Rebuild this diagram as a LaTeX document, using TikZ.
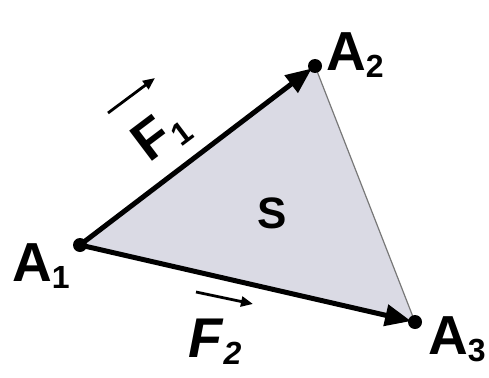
\documentclass[tikz,border=0pt]{standalone}
\usepackage{fontspec}
\setmainfont{Liberation Sans}
\usetikzlibrary{arrows.meta}
\definecolor{surf}{RGB}{218,218,228}
\definecolor{edgegray}{RGB}{120,120,120}
\newcommand\sbs[1]{\raisebox{-7pt}{\fontsize{32}{32}\selectfont #1}}
\begin{document}
\begin{tikzpicture}[x=1pt,y=-1pt,
  pt/.style={circle,fill=black,inner sep=0pt,minimum size=14pt},
  vec/.style={line width=5pt,-{Triangle[length=26pt,width=21pt]},shorten >=4pt},
  lbl/.style={inner sep=0pt,font=\bfseries\fontsize{55}{55}\selectfont},
  flbl/.style={inner sep=0pt,font=\bfseries\itshape\fontsize{56}{56}\selectfont},
  over/.style={line width=2.8pt,-{Triangle[length=12pt,width=10pt]}}
]
\useasboundingbox (0,0) rectangle (489,377);
\coordinate (a1) at (80,245);
\coordinate (a2) at (315,66);
\coordinate (a3) at (415,322);
\fill[surf] (a1) -- (a2) -- (a3) -- cycle;
\draw[edgegray,line width=1.2pt] (a2) -- (a3);
\draw[vec] (a1) -- (a2);
\draw[vec] (a1) -- (a3);
\node[pt] (p1) at (a1) {};
\node[pt] (p2) at (a2) {};
\node[pt] (p3) at (a3) {};
\node[lbl,anchor=base west] (l1) at (12,281) {A\sbs{1}};
\node[lbl,anchor=base west] (l2) at (326,71) {A\sbs{2}};
\node[lbl,anchor=base west] (l3) at (428,354) {A\sbs{3}};
\node[font=\bfseries\fontsize{44}{44}\selectfont,inner sep=0pt] (s) at (272,213) {S};
\node[lbl,rotate=37] (f1) at (161,135) {F\kern1pt\sbs{1}};
\node[flbl] (f2) at (215,342) {F\kern1pt\sbs{2}};
\coordinate (f1s) at (108,113);
\coordinate (f1e) at (155,78);
\coordinate (f2s) at (196,292);
\coordinate (f2e) at (253,304);
\draw[over] (f1s) -- (f1e);
\draw[over] (f2s) -- (f2e);
\end{tikzpicture}
\end{document}
